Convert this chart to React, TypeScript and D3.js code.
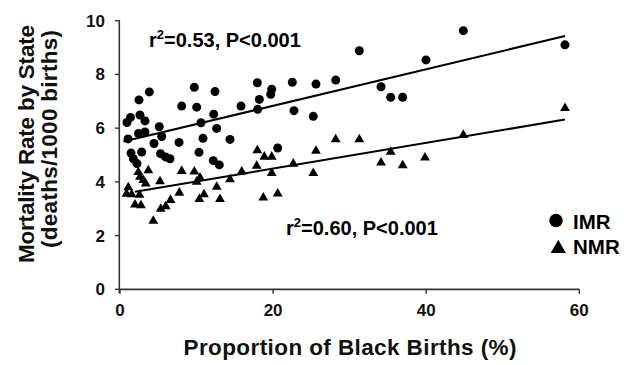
import React from "react";
import * as d3 from "d3";

// Proportion of black births (%) and mortality rates (deaths/1000 births)
const imrX = [2.48, 3.83, 9.71, 12.41, 17.94, 19.82, 19.69, 18.2, 8.06, 10.02, 15.81, 17.99, 2.61, 1.37, 0.91, 3.27, 12.24, 10.58, 5.13, 12.63, 1.05, 2.42, 3.27, 5.45, 10.84, 14.37, 7.71, 4.44, 20.6, 1.44, 2.83, 5.29, 5.94, 6.53, 10.32, 1.74, 2.22, 12.19, 12.97, 31.26, 39.97, 22.51, 25.6, 28.18, 22.73, 25.25, 34.1, 35.36, 36.93, 44.85, 58.13];
const imrY = [7.05, 7.35, 7.52, 7.36, 7.69, 7.45, 7.26, 7.07, 6.82, 6.78, 6.82, 6.7, 6.49, 6.4, 6.21, 6.27, 6.52, 6.2, 6.05, 5.99, 5.6, 5.8, 5.86, 5.69, 5.62, 5.58, 5.47, 5.43, 5.26, 5.07, 5.11, 5.05, 4.93, 4.86, 5.1, 4.86, 4.68, 4.79, 4.63, 8.88, 8.54, 7.71, 7.64, 7.79, 6.65, 6.44, 7.54, 7.15, 7.15, 9.63, 9.1];
const nmrX = [3.7, 2.39, 2.61, 3.04, 3.36, 5.23, 1.08, 0.85, 1.53, 2.55, 1.96, 2.74, 6.6, 5.32, 5.97, 4.35, 8.06, 9.71, 10.02, 10.45, 7.75, 10.36, 10.97, 12.63, 13.06, 14.37, 15.9, 17.94, 17.86, 18.85, 19.82, 18.72, 19.82, 20.6, 25.6, 22.64, 25.25, 35.36, 34.1, 36.93, 39.84, 28.18, 31.26, 58.13, 44.85];
const nmrY = [4.46, 4.4, 4.22, 4.1, 3.97, 4.05, 3.83, 3.59, 3.57, 3.55, 3.19, 3.16, 3.36, 3.03, 3.12, 2.58, 4.44, 4.42, 4.04, 4.19, 3.63, 3.39, 3.57, 3.85, 3.39, 4.13, 4.42, 5.21, 4.63, 4.97, 4.97, 3.45, 4.36, 3.6, 5.19, 4.71, 4.36, 5.15, 4.75, 4.65, 4.94, 5.62, 5.62, 6.78, 5.78];

// Fitted regression lines, read as end points
const imrLineX = [0.45, 58.13];
const imrLineY = [5.5, 9.43];
const nmrLineX = [1.96, 58.13];
const nmrLineY = [3.63, 6.32];

const xTicks = [0, 20, 40, 60];
const yTicks = [0, 2, 4, 6, 8, 10];
const seriesNames = ["IMR", "NMR"];
const statLabels = ["=0.53, P<0.001", "=0.60, P<0.001"];

const FONT = "'Liberation Sans', Arial, Helvetica, sans-serif";

export default function App() {
  const x = d3.scaleLinear().domain([0, 60]).range([120, 579.3]);
  const y = d3.scaleLinear().domain([0, 10]).range([289.3, 20.7]);
  const line = d3
    .line<number[]>()
    .x((d) => x(d[0]))
    .y((d) => y(d[1]));
  const tri = d3.symbol().type(d3.symbolTriangle).size(42)() as string;
  const triLegend = d3.symbol().type(d3.symbolTriangle).size(100)() as string;
  const axisColor = "#333";
  const imrPts = imrX.map((v, i) => [v, imrY[i]]);
  const nmrPts = nmrX.map((v, i) => [v, nmrY[i]]);

  return (
    <svg
      width={632}
      height={365}
      style={{ position: "absolute", left: 0, top: 0, background: "#fff" }}
      fontFamily={FONT}
    >
      {/* axes */}
      <line x1={x(0) - 0.7} x2={x(0) - 0.7} y1={y(10)} y2={y(0) + 4} stroke={axisColor} strokeWidth={1.6} />
      <line x1={x(0) - 0.7} x2={x(60)} y1={y(0)} y2={y(0)} stroke={axisColor} strokeWidth={1.8} />
      {yTicks.map((t) => (
        <g key={"y" + t}>
          <line x1={x(0) - 5} x2={x(0)} y1={y(t)} y2={y(t)} stroke={axisColor} strokeWidth={1.4} />
          <text x={105} y={y(t) + 6} textAnchor="end" fontSize={17} fontWeight="bold" fill="#111">
            {t}
          </text>
        </g>
      ))}
      {xTicks.map((t) => (
        <g key={"x" + t}>
          <line x1={x(t)} x2={x(t)} y1={y(0)} y2={y(0) + 4.5} stroke={axisColor} strokeWidth={1.4} />
          <text x={x(t)} y={316} textAnchor="middle" fontSize={17} fontWeight="bold" fill="#111">
            {t}
          </text>
        </g>
      ))}

      {/* axis titles */}
      <text x={350} y={355} textAnchor="middle" fontSize={22.5} fontWeight="bold" fill="#111" textLength={333} lengthAdjust="spacing">
        Proportion of Black Births (%)
      </text>
      <g transform="translate(33.5,144) rotate(-90)">
        <text x={0} y={0} textAnchor="middle" fontSize={22.5} fontWeight="bold" fill="#111" textLength={238} lengthAdjust="spacing">
          Mortality Rate by State
        </text>
      </g>
      <g transform="translate(57,139) rotate(-90)">
        <text x={0} y={0} textAnchor="middle" fontSize={22.5} fontWeight="bold" fill="#111" textLength={218} lengthAdjust="spacing">
          (deaths/1000  births)
        </text>
      </g>

      {/* regression lines */}
      <path d={line(imrLineX.map((v, i) => [v, imrLineY[i]])) as string} stroke="#000" strokeWidth={2} fill="none" />
      <path d={line(nmrLineX.map((v, i) => [v, nmrLineY[i]])) as string} stroke="#000" strokeWidth={2} fill="none" />

      {/* points */}
      {imrPts.map((d, i) => (
        <circle key={"c" + i} cx={x(d[0])} cy={y(d[1])} r={4.5} fill="#000" />
      ))}
      {nmrPts.map((d, i) => (
        <path key={"t" + i} d={tri} transform={`translate(${x(d[0])},${y(d[1]) + 1})`} fill="#000" />
      ))}

      {/* stat labels */}
      <text x={149} y={46.7} fontSize={20} fontWeight="bold" fill="#000">
        r<tspan fontSize={13} dy={-8}>2</tspan>
        <tspan dy={8}>{statLabels[0]}</tspan>
      </text>
      <text x={286} y={234.5} fontSize={20} fontWeight="bold" fill="#000">
        r<tspan fontSize={13} dy={-8}>2</tspan>
        <tspan dy={8}>{statLabels[1]}</tspan>
      </text>

      {/* legend */}
      <circle cx={556} cy={220.5} r={6.7} fill="#000" />
      <text x={573} y={228.5} fontSize={20.5} fontWeight="bold" fill="#000">
        {seriesNames[0]}
      </text>
      <path d={triLegend} transform="translate(558.3,248.5)" fill="#000" />
      <text x={573} y={253.5} fontSize={20.5} fontWeight="bold" fill="#000">
        {seriesNames[1]}
      </text>
    </svg>
  );
}
